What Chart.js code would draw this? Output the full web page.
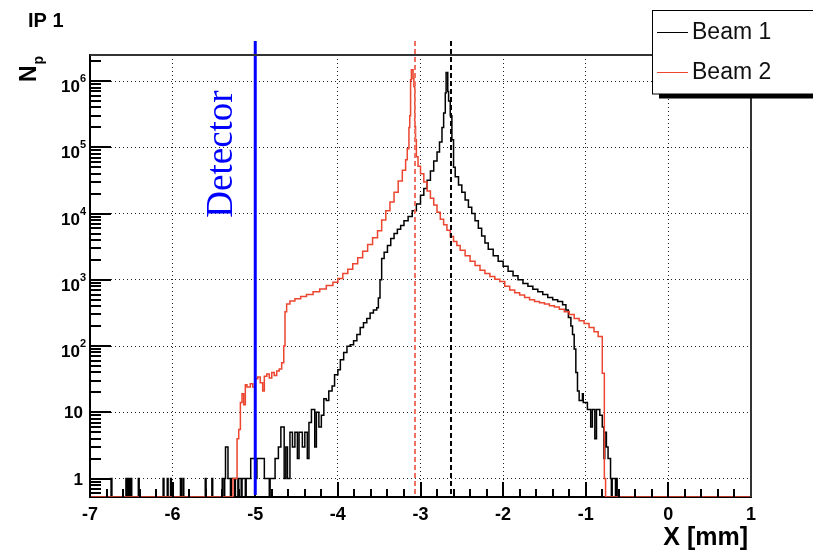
<!DOCTYPE html>
<html>
<head>
<meta charset="utf-8">
<title>IP 1 - beam profiles</title>
<script src="https://cdn.jsdelivr.net/npm/chart.js@4.4.1/dist/chart.umd.min.js"></script>
<style>
    html, body { margin: 0; padding: 0; background: #fff; }
    #wrap { width: 813px; height: 552px; }
</style>
</head>
<body>
<div id="wrap"><canvas id="myChart" width="813" height="552"></canvas></div>
<script>
// Axis ranges and ticks

const xMin = -7, xMax = 1
const yMin = 0.526, yMax = 2.48e6

const xTicks = [-7, -6, -5, -4, -3, -2, -1, 0, 1]
const yTicks = [1, 10, 100, 1e3, 1e4, 1e5, 1e6]

// Histograms: left edge of each bin and its count (last bin runs to xMax)

const beam1Start = [-7, -6.745, -6.735, -6.565, -6.555, -6.545, -6.535, -6.525, -6.515, -6.505, -6.495, -6.415, -6.405,
    -6.115, -6.105, -6.065, -6.055, -6.025, -6.015, -5.905, -5.895, -5.875, -5.865, -5.605, -5.595, -5.525, -5.515,
    -5.40, -5.39, -5.37, -5.36, -5.33, -5.30, -5.29, -5.25, -5.24, -5.21, -5.20, -5.17, -5.16, -5.12, -5.11, -5.055,
    -4.99, -4.98, -4.89, -4.83, -4.82, -4.76, -4.72, -4.69, -4.65, -4.63, -4.61, -4.58, -4.55, -4.52, -4.49, -4.47,
    -4.43, -4.40, -4.37, -4.35, -4.32, -4.28, -4.26, -4.23, -4.20, -4.17, -4.14, -4.11, -4.07, -4.04, -4.00, -3.97,
    -3.93, -3.89, -3.85, -3.81, -3.77, -3.73, -3.69, -3.65, -3.61, -3.57, -3.53, -3.51, -3.49, -3.47, -3.44, -3.40,
    -3.36, -3.32, -3.28, -3.24, -3.20, -3.15, -3.10, -3.05, -3.00, -2.96, -2.92, -2.88, -2.84, -2.80, -2.77, -2.74,
    -2.72, -2.70, -2.69, -2.67, -2.66, -2.64, -2.62, -2.60, -2.58, -2.54, -2.50, -2.46, -2.42, -2.38, -2.34, -2.30,
    -2.26, -2.22, -2.18, -2.12, -2.06, -2.00, -1.94, -1.88, -1.82, -1.76, -1.70, -1.64, -1.58, -1.52, -1.46, -1.40,
    -1.34, -1.28, -1.24, -1.21, -1.18, -1.16, -1.14, -1.12, -1.10, -1.08, -1.04, -1.03, -0.98, -0.94, -0.92, -0.89,
    -0.87, -0.83, -0.80, -0.78, -0.77, -0.75, -0.73, -0.70, -0.69, -0.68, -0.64, -0.63, -0.62]
const beam1Counts = [0, 1, 0, 1, 0, 1, 0, 1, 0, 1, 0, 1, 0,
    1, 0, 1, 0, 1, 0, 1, 0, 1, 0, 1, 0, 1, 0,
    1, 0, 1, 3, 1, 0, 1, 0, 1, 0, 1, 0, 1, 0, 1, 2,
    1, 2, 1, 0, 1, 2, 3, 6, 1, 3, 1, 5, 3, 5, 2, 5,
    3, 5, 2, 7, 11, 3, 10, 6, 9, 16, 15, 21, 25, 37, 44,
    62, 80, 99, 105, 120, 150, 190, 225, 260, 315, 350, 380, 530, 1000, 2100, 2600,
    3300, 4200, 5000, 5800, 6600, 7800, 9000, 11000, 14000, 19000, 24000, 32000, 44000, 62000, 85000, 120000,
    200000, 330000, 660000, 1350000, 700000, 500000, 300000, 130000, 50000, 36000, 27000, 21000, 16000, 12500, 10000, 7800,
    6000, 4600, 3600, 2900, 2300, 1900, 1600, 1350, 1150, 1000, 880, 800, 720, 660, 600, 540,
    500, 470, 420, 350, 270, 200, 150, 90, 40, 21, 15, 19, 14, 11, 6, 11,
    4, 11, 9, 6, 2, 5, 3, 2, 1, 0, 1, 0, 1, 0]

const beam2Start = [-7, -5.27, -5.22, -5.20, -5.18, -5.16, -5.14, -5.12, -5.10, -5.06, -5.03, -5.00, -4.97, -4.94,
    -4.91, -4.89, -4.86, -4.83, -4.80, -4.77, -4.74, -4.71, -4.68, -4.655, -4.64, -4.62, -4.58, -4.52, -4.45, -4.38,
    -4.30, -4.22, -4.14, -4.06, -4.00, -3.94, -3.88, -3.82, -3.76, -3.70, -3.64, -3.58, -3.52, -3.47, -3.42, -3.37,
    -3.32, -3.27, -3.22, -3.18, -3.16, -3.14, -3.13, -3.12, -3.11, -3.09, -3.08, -3.07, -3.06, -3.05, -3.03, -3.00,
    -2.96, -2.92, -2.88, -2.84, -2.80, -2.76, -2.72, -2.68, -2.64, -2.60, -2.56, -2.52, -2.46, -2.40, -2.34, -2.28,
    -2.22, -2.16, -2.10, -2.04, -1.98, -1.92, -1.86, -1.80, -1.74, -1.68, -1.62, -1.56, -1.50, -1.44, -1.38, -1.32,
    -1.26, -1.20, -1.14, -1.08, -1.02, -0.96, -0.90, -0.85, -0.80, -0.775, -0.76]
const beam2Counts = [0, 1, 4, 5.5, 14, 19, 13, 26, 24, 27, 24, 32, 34, 28,
    21, 35, 38, 33, 40, 36, 42, 45, 56, 100, 330, 430, 480, 520, 560, 600,
    660, 730, 820, 920, 1050, 1250, 1450, 1750, 2150, 2700, 3400, 4300, 5500, 8000, 11000, 15000,
    21000, 31000, 45000, 65000, 95000, 200000, 300000, 1050000, 1480000, 1100000, 830000, 205000, 130000, 72000, 52000, 40000,
    30000, 22000, 17000, 13500, 10500, 8200, 6800, 5600, 4500, 3800, 3300, 2800, 2300, 1900, 1650, 1400,
    1250, 1120, 1020, 940, 800, 700, 640, 590, 540, 500, 470, 450, 430, 405, 390, 360,
    330, 300, 260, 240, 220, 190, 165, 140, 39, 1, 0]

// Markers

const beam1Mean = -2.63
const beam2Mean = -3.07
const detectorX = -5.0

const beam1Color = '#000000'
const beam2Color = '#ec4530'
const font = 'Liberation Sans, Arial, sans-serif'

// Empty bins sit on the bottom of the frame, like ROOT does on a log axis
function toSteps(starts, counts) {
    var pts = starts.map((x, i) => ({ x: x, y: counts[i] > 0 ? counts[i] : yMin }))
    pts.push({ x: xMax, y: pts[pts.length - 1].y })
    return pts
}

// ROOT-like frame, ticks, labels and legend

var rootStyle = {
    id: 'rootStyle',
    afterDatasetsDraw(chart) {
        const ctx = chart.ctx, xs = chart.scales.x, ys = chart.scales.y, area = chart.chartArea
        const left = Math.round(area.left), bottom = Math.round(area.bottom)
        const top = area.top - 14

        ctx.save()

        // inner ticks on the left and bottom axes
        ctx.fillStyle = '#000000'
        for (var d = -1; d <= 6; d++) {
            for (var k = 1; k <= 9; k++) {
                var tv = k * Math.pow(10, d)
                if (tv < yMin || tv > yMax) continue
                var ty = Math.round(ys.getPixelForValue(tv))
                ctx.fillRect(left, ty - 1, k == 1 ? 21 : 11, 2)
            }
        }
        for (var i = 0; i <= 40; i++) {
            var tx = Math.round(xs.getPixelForValue(xMin + i * 0.2))
            var len = i % 5 == 0 ? 15 : 8
            ctx.fillRect(tx - 1, bottom - len, 2, len)
        }

        // mean positions
        ctx.lineWidth = 2
        ctx.setLineDash([5, 3])
        var means = [[beam2Mean, '#f07262'], [beam1Mean, '#000']]
        means.forEach(m => {
            var px = Math.round(xs.getPixelForValue(m[0]))
            ctx.strokeStyle = m[1]
            ctx.beginPath()
            ctx.moveTo(px, top)
            ctx.lineTo(px, area.bottom)
            ctx.stroke()
        })
        ctx.setLineDash([])

        // detector
        var dx = xs.getPixelForValue(detectorX)
        ctx.strokeStyle = '#0000ff'
        ctx.lineWidth = 3
        ctx.beginPath()
        ctx.moveTo(dx, top)
        ctx.lineTo(dx, area.bottom - 2)
        ctx.stroke()

        ctx.translate(dx - 23, 154)
        ctx.rotate(-Math.PI / 2)
        ctx.fillStyle = '#0000ff'
        ctx.font = '37px Liberation Serif, Times New Roman, serif'
        ctx.textAlign = 'center'
        ctx.textBaseline = 'alphabetic'
        ctx.fillText('Detector', 0, 0)
        ctx.restore()
    },
    afterDraw(chart) {
        const ctx = chart.ctx, ys = chart.scales.y, area = chart.chartArea
        ctx.save()
        ctx.setLineDash([])

        // top and right frame
        ctx.fillStyle = '#333'
        ctx.fillRect(Math.round(area.left), Math.round(area.top) - 1, Math.round(area.right - area.left) + 1, 2)
        ctx.fillRect(Math.round(area.right) - 1, Math.round(area.top) - 1, 2, Math.round(area.bottom - area.top) + 1)

        // y labels with exponents
        ctx.fillStyle = '#000'
        ctx.textBaseline = 'alphabetic'
        yTicks.forEach(v => {
            var py = ys.getPixelForValue(v)
            var exp = Math.round(Math.log10(v))
            if (exp < 2) {
                ctx.font = 'bold 17px ' + font
                ctx.textAlign = 'right'
                ctx.fillText(String(v), 83, py + 6)
            } else {
                ctx.font = 'bold 11px ' + font
                ctx.textAlign = 'right'
                ctx.fillText(String(exp), 86, py + 1)
                var ew = ctx.measureText(String(exp)).width
                ctx.font = 'bold 17px ' + font
                ctx.fillText('10', 86 - ew, py + 11)
            }
        })

        // titles
        ctx.textAlign = 'left'
        ctx.font = 'bold 20px ' + font
        ctx.fillText('IP 1', 28, 27)

        ctx.save()
        ctx.translate(36, 82)
        ctx.rotate(-Math.PI / 2)
        ctx.font = 'bold 23px ' + font
        ctx.fillText('N', 0, 0)
        var nw = ctx.measureText('N').width
        ctx.font = 'bold 14px ' + font
        ctx.fillText('p', nw + 1, 7)
        ctx.restore()

        ctx.textAlign = 'right'
        ctx.font = 'bold 25px ' + font
        ctx.fillText('X [mm]', 748, 545)

        // legend
        ctx.fillStyle = '#000'
        ctx.fillRect(659, 94, 160, 4.5)
        ctx.fillStyle = '#fff'
        ctx.fillRect(652, 10, 170, 84)
        ctx.strokeStyle = '#000'
        ctx.lineWidth = 1
        ctx.strokeRect(652.5, 10.5, 170, 83.5)

        var entries = [['Beam 1', beam1Color, 32.5], ['Beam 2', beam2Color, 72.5]]
        entries.forEach(e => {
            ctx.strokeStyle = e[1]
            ctx.beginPath()
            ctx.moveTo(657, e[2])
            ctx.lineTo(688, e[2])
            ctx.stroke()
            ctx.fillStyle = '#111'
            ctx.font = '23px ' + font
            ctx.textAlign = 'left'
            ctx.textBaseline = 'middle'
            ctx.fillText(e[0], 692, e[2])
        })

        ctx.restore()
    }
}

// Drawing

var ctx = document.getElementById('myChart').getContext('2d')

var data = {
    datasets: [{
        label: 'Beam 1',
        data: toSteps(beam1Start, beam1Counts),
        borderColor: beam1Color,
        borderWidth: 1.5,
        stepped: true,
        pointRadius: 0,
        fill: false,
        order: 1,
    }, {
        label: 'Beam 2',
        data: toSteps(beam2Start, beam2Counts),
        borderColor: beam2Color,
        borderWidth: 1.5,
        stepped: true,
        pointRadius: 0,
        fill: false,
        order: 0,
    }]
}

var options = {
    responsive: false,
    animation: false,
    layout: { padding: { left: 0, right: 62, top: 55, bottom: 0 } },
    plugins: {
        legend: { display: false },
        tooltip: { enabled: false },
    },
    scales: {
        x: {
            type: 'linear',
            min: xMin,
            max: xMax,
            afterBuildTicks: s => { s.ticks = xTicks.map(v => ({ value: v })) },
            afterFit: s => { s.height = 55; s.paddingLeft = 0; s.paddingRight = 0 },
            grid: { color: '#222', lineWidth: 1, drawTicks: false },
            border: { display: true, color: '#000', width: 2, dash: [1, 3] },
            ticks: {
                color: '#000',
                padding: 7,
                maxRotation: 0,
                font: { family: font, size: 18, weight: 'bold' },
                callback: v => String(v),
            },
        },
        y: {
            type: 'logarithmic',
            min: yMin,
            max: yMax,
            afterBuildTicks: s => { s.ticks = yTicks.map(v => ({ value: v })) },
            afterFit: s => { s.width = 90; s.paddingTop = 0; s.paddingBottom = 0 },
            grid: { color: '#222', lineWidth: 1, drawTicks: false },
            border: { display: true, color: '#000', width: 2, dash: [1, 3] },
            ticks: { display: false },
        },
    },
}

var myChart = new Chart(ctx, {
    type: 'line',
    data: data,
    options: options,
    plugins: [rootStyle],
})
</script>
</body>
</html>
